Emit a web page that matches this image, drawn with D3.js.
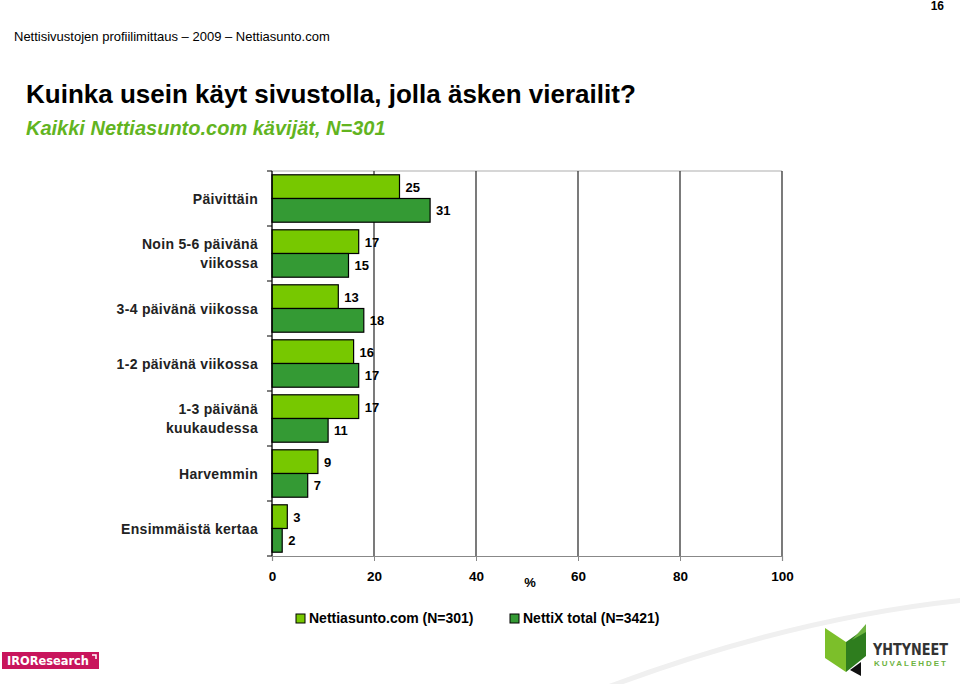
<!DOCTYPE html>
<html>
<head>
<meta charset="utf-8">
<script src="https://cdn.jsdelivr.net/npm/d3@7"></script>
<style>
  html, body { margin: 0; padding: 0; background: #fff; }
  svg { display: block; font-family: Arial, "Liberation Sans", sans-serif; }
</style>
</head>
<body>
<svg id="chart" width="960" height="684"></svg>
<script>
// ---- data ----
const categories = ["Päivittäin", "Noin 5-6 päivänä|viikossa", "3-4 päivänä viikossa", "1-2 päivänä viikossa", "1-3 päivänä |kuukaudessa", "Harvemmin", "Ensimmäistä kertaa"];
const seriesNames = ["Nettiasunto.com (N=301)", "NettiX total (N=3421)"];
const nettiasunto = [25, 17, 13, 16, 17, 9, 3];
const nettixTotal = [31, 15, 18, 17, 11, 7, 2];
const xTicks = [0, 20, 40, 60, 80, 100];
const seriesColors = ["#77C800", "#349A34"];

(function () {
const svg = d3.select("#chart");

// ---- header texts ----
svg.append("text").attr("x", 944).attr("y", 10).attr("text-anchor", "end")
  .attr("font-size", 12).attr("font-weight", "bold").text("16");
svg.append("text").attr("x", 14).attr("y", 41).attr("font-size", 13).text("Nettisivustojen profiilimittaus – 2009 – Nettiasunto.com");
svg.append("text").attr("x", 26).attr("y", 103).attr("font-size", 26).attr("font-weight", "bold")
  .text("Kuinka usein käyt sivustolla, jolla äsken vierailit?");
svg.append("text").attr("x", 26).attr("y", 135).attr("font-size", 20).attr("font-weight", "bold")
  .attr("font-style", "italic").attr("fill", "#62B41F").text("Kaikki Nettiasunto.com kävijät, N=301");

// faint swoosh
svg.append("path").attr("d", "M600,690 Q790,618 965,600").attr("fill", "none")
  .attr("stroke", "#f0f0f0").attr("stroke-width", 5);

// ---- scales ----
const pLeft = 272, pRight = 782, pTop = 171, pBottom = 556;
const x = d3.scaleLinear().domain([0, 100]).range([pLeft, pRight]);
const y = d3.scaleBand().domain(categories).range([pTop, pBottom]).paddingInner(0).paddingOuter(0);
const ySub = d3.scaleBand().domain([0, 1]).range([0, y.bandwidth()]).paddingInner(0).paddingOuter(0.16);

// grid lines
const g = svg.append("g");
g.append("line").attr("x1", pLeft).attr("x2", pRight).attr("y1", pTop).attr("y2", pTop)
  .attr("stroke", "#c8c8c8").attr("stroke-width", 1.5);
g.selectAll("line.grid").data(xTicks.slice(1)).enter().append("line")
  .attr("class", "grid")
  .attr("x1", d => x(d)).attr("x2", d => x(d)).attr("y1", pTop).attr("y2", pBottom)
  .attr("stroke", "#333").attr("stroke-width", 1.3);

// x axis
const xAxis = svg.append("g").attr("transform", `translate(0,${pBottom})`)
  .call(d3.axisBottom(x).tickValues(xTicks).tickSize(5).tickPadding(10));
xAxis.select(".domain").attr("stroke", "#888").attr("stroke-width", 1.2);
xAxis.selectAll(".tick line").attr("stroke", "#888");
xAxis.selectAll(".tick text").attr("font-size", 13.5).attr("font-weight", "bold")
  .attr("font-family", "Arial, 'Liberation Sans', sans-serif").attr("fill", "#000");
svg.append("text").attr("x", 530).attr("y", 587).attr("text-anchor", "middle")
  .attr("font-size", 13).attr("font-weight", "bold").text("%");

// y axis (category separators)
const bounds = d3.range(categories.length + 1).map(i => pTop + i * y.step());
svg.selectAll("line.ytick").data(bounds).enter().append("line")
  .attr("x1", pLeft - 5).attr("x2", pLeft).attr("y1", d => d).attr("y2", d => d)
  .attr("stroke", "#000").attr("stroke-width", 1);

// bars
const rows = categories.map((c, i) => ({ cat: c, vals: [nettiasunto[i], nettixTotal[i]] }));
const rowG = svg.selectAll("g.row").data(rows).enter().append("g")
  .attr("transform", d => `translate(0,${y(d.cat)})`);
rowG.selectAll("rect").data(d => d.vals.map((v, s) => ({ v, s }))).enter().append("rect")
  .attr("x", x(0)).attr("y", d => ySub(d.s))
  .attr("width", d => x(d.v) - x(0)).attr("height", ySub.bandwidth())
  .attr("fill", d => seriesColors[d.s]).attr("stroke", "#000").attr("stroke-width", 1.2);
rowG.selectAll("text.val").data(d => d.vals.map((v, s) => ({ v, s }))).enter().append("text")
  .attr("class", "val")
  .attr("x", d => x(d.v) + 6).attr("y", d => ySub(d.s) + ySub.bandwidth() / 2 + 5)
  .attr("font-size", 13).attr("font-weight", "bold").text(d => d.v);

svg.append("line").attr("x1", pLeft).attr("x2", pLeft).attr("y1", pTop).attr("y2", pBottom)
  .attr("stroke", "#000").attr("stroke-width", 1.3);

// category labels
rowG.each(function (d) {
  const lines = d.cat.split("|");
  const t = d3.select(this).append("text").attr("text-anchor", "end")
    .attr("font-size", 14).attr("font-weight", "bold").attr("fill", "#222")
    .attr("letter-spacing", 0.3);
  const mid = y.bandwidth() / 2;
  lines.forEach((ln, k) => {
    t.append("tspan").attr("x", 258)
      .attr("y", mid + 5 + (k - (lines.length - 1) / 2) * 19).text(ln.trim());
  });
});

// legend
const leg = svg.append("g");
const legX = [296, 510];
seriesNames.forEach((n, i) => {
  leg.append("rect").attr("x", legX[i]).attr("y", 614).attr("width", 9).attr("height", 9)
    .attr("fill", seriesColors[i]).attr("stroke", "#000").attr("stroke-width", 1);
  leg.append("text").attr("x", legX[i] + 13).attr("y", 623).attr("font-size", 14)
    .attr("font-weight", "bold").text(n);
});

// IRO Research logo
svg.append("rect").attr("x", 2).attr("y", 652).attr("width", 97).attr("height", 17).attr("fill", "#C8155C");
svg.append("text").attr("x", 7).attr("y", 665).attr("font-size", 12.5).attr("font-weight", "bold").attr("fill", "#fff")
  .attr("font-family", "'DejaVu Sans', sans-serif").attr("textLength", 82).attr("lengthAdjust", "spacingAndGlyphs").text("IROResearch");
svg.append("path").attr("d", "M92,655 L96,655 L96,659").attr("fill", "none").attr("stroke", "#fff").attr("stroke-width", 1.5);

// Yhtyneet Kuvalehdet logo
const lg = svg.append("g");
lg.append("path").attr("d", "M825,628 L846,642 L846,672 L825,658 Z").attr("fill", "#7CBF2A");
lg.append("path").attr("d", "M846,642 L866,628 L866,656 L846,672 Z").attr("fill", "#2E7D1E");
lg.append("path").attr("d", "M852,640 L866,624 L866,632 Z").attr("fill", "#6DB33F");
lg.append("path").attr("d", "M850,670 L861,662 L861,676 Z").attr("fill", "#111");
lg.append("text").attr("x", 873).attr("y", 655).attr("font-size", 16).attr("font-weight", "bold")
  .attr("fill", "#333").attr("font-family", "'Liberation Sans Narrow', 'DejaVu Sans Condensed', sans-serif")
  .attr("textLength", 75).attr("lengthAdjust", "spacingAndGlyphs").text("YHTYNEET");
lg.append("text").attr("x", 874).attr("y", 666).attr("font-size", 8).attr("font-weight", "bold")
  .attr("fill", "#6DB33F").attr("textLength", 72).attr("lengthAdjust", "spacing").text("KUVALEHDET");
})();
</script>
</body>
</html>
